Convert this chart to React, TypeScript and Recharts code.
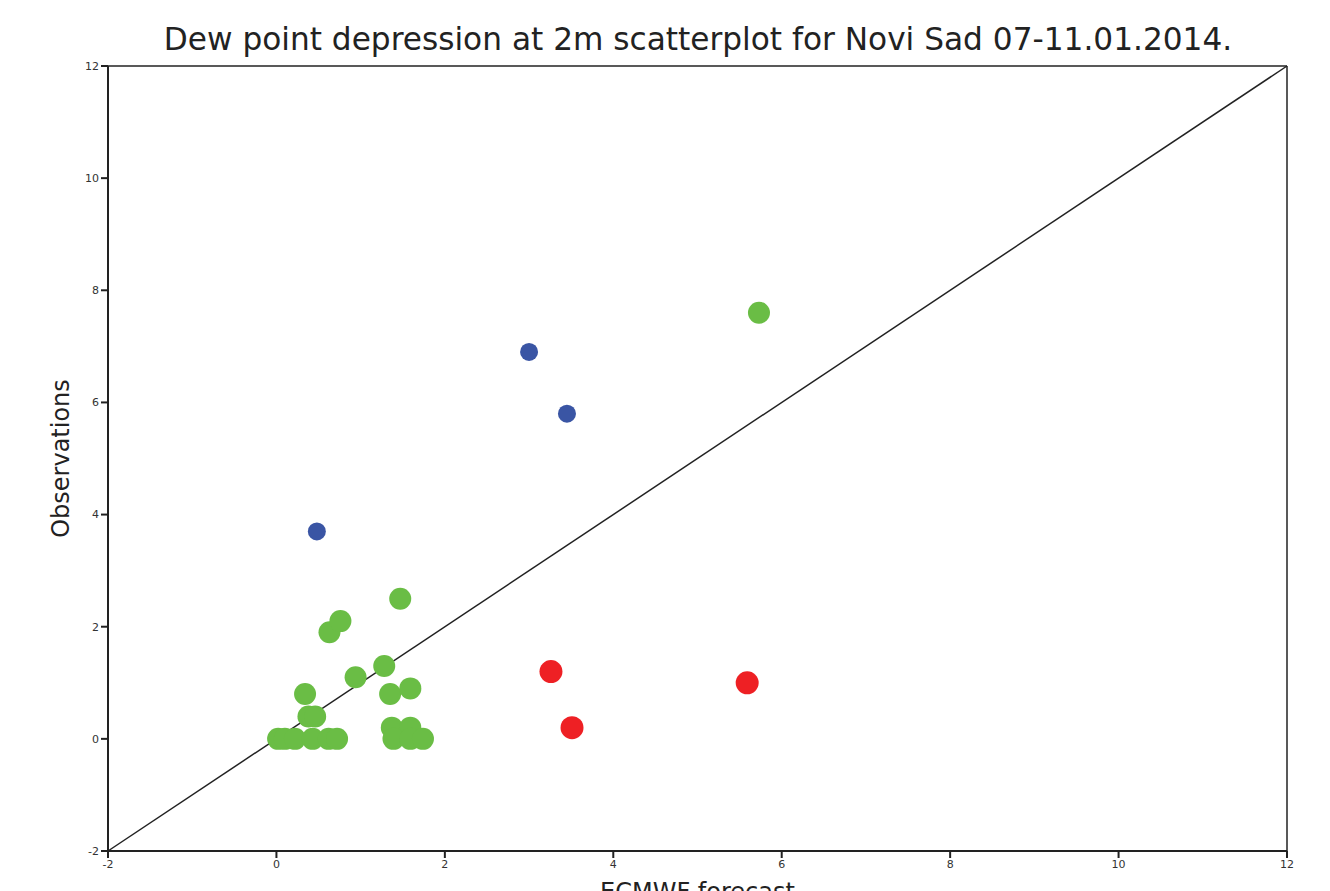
import { ScatterChart, Scatter, XAxis, YAxis, ReferenceLine, Label } from 'recharts'

const TICKS = [-2, 0, 2, 4, 6, 8, 10, 12]

// green: forecast close / near zero
const greenX = [0.02, 0.1, 0.22, 0.43, 0.62, 0.72, 0.34, 0.38, 0.46, 0.63, 0.76, 0.94, 1.28, 1.35, 1.47, 1.59, 1.37, 1.59, 1.39, 1.59, 1.74, 5.73]
const greenY = [0, 0, 0, 0, 0, 0, 0.8, 0.4, 0.4, 1.9, 2.1, 1.1, 1.3, 0.8, 2.5, 0.9, 0.2, 0.2, 0, 0, 0, 7.6]

const blueX = [0.48, 3.0, 3.45]
const blueY = [3.7, 6.9, 5.8]

const redX = [3.26, 3.51, 5.59]
const redY = [1.2, 0.2, 1.0]

const toPts = (xs: number[], ys: number[]) => xs.map((x, i) => ({ x, y: ys[i] }))

const dot = (r: number, fill: string) => (p: any) => (
  <circle cx={p.cx} cy={p.cy} r={r} fill={fill} />
)

const tickStyle = { fontSize: 11, fill: '#333', fontFamily: 'DejaVu Sans' }

export default function App() {
  return (
    <div style={{ position: 'absolute', left: 0, top: 0, width: 1330, height: 891, overflow: 'hidden', background: '#fff', fontFamily: 'DejaVu Sans' }}>
      <div style={{ position: 'absolute', left: 0, width: 1396, top: 21, textAlign: 'center', fontSize: 31.2, color: '#222' }}>
        Dew point depression at 2m scatterplot for Novi Sad 07-11.01.2014.
      </div>
      <ScatterChart width={1330} height={891} margin={{ top: 66, right: 43, bottom: 10, left: 78 }}>
        <XAxis type="number" dataKey="x" domain={[-2, 12]} ticks={TICKS} allowDataOverflow
          height={30} tick={tickStyle} tickSize={7} tickMargin={2}
          axisLine={{ stroke: '#222', strokeWidth: 2 }} tickLine={{ stroke: '#222', strokeWidth: 2 }}>
          <Label value="ECMWF forecast" position="bottom" offset={2} style={{ fontSize: 24, fill: '#222' }} />
        </XAxis>
        <YAxis type="number" dataKey="y" domain={[-2, 12]} ticks={TICKS} allowDataOverflow
          width={30} tick={tickStyle} tickSize={7} tickMargin={2}
          axisLine={{ stroke: '#222', strokeWidth: 2 }} tickLine={{ stroke: '#222', strokeWidth: 2 }}>
          <Label value="Observations" angle={-90} position="left" offset={18} style={{ fontSize: 24, fill: '#222', textAnchor: 'middle' }} />
        </YAxis>
        <ReferenceLine y={12} stroke="#222" strokeWidth={1.5} />
        <ReferenceLine x={12} stroke="#222" strokeWidth={1.5} />
        <ReferenceLine segment={[{ x: -2, y: -2 }, { x: 12, y: 12 }]} stroke="#222" strokeWidth={1.5} />
        <Scatter data={toPts(greenX, greenY)} fill="#6abd45" shape={dot(11, '#6abd45')} isAnimationActive={false} />
        <Scatter data={toPts(blueX, blueY)} fill="#3a55a4" shape={dot(9, '#3a55a4')} isAnimationActive={false} />
        <Scatter data={toPts(redX, redY)} fill="#ee2024" shape={dot(11.5, '#ee2024')} isAnimationActive={false} />
      </ScatterChart>
    </div>
  )
}
